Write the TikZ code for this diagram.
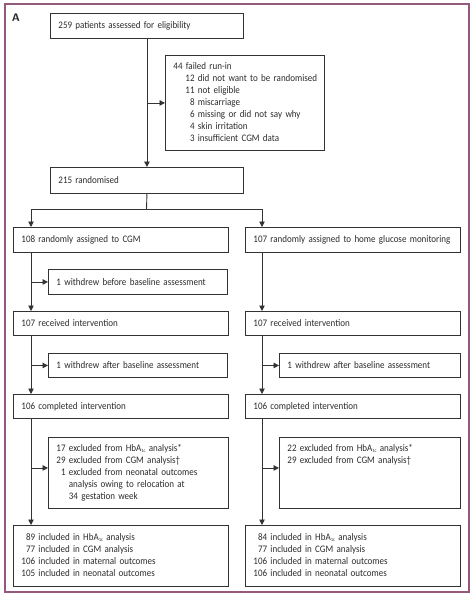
\documentclass[tikz,border=0pt]{standalone}
\usepackage{fontspec}
\setmainfont{Carlito}[FakeStretch=0.9]
\usetikzlibrary{arrows.meta}
\definecolor{framec}{HTML}{94587C}
\definecolor{linec}{HTML}{333333}
\definecolor{textc}{HTML}{2B2B2B}
\hyphenpenalty=10000
\exhyphenpenalty=10000
\newcommand\hba{HbA\raisebox{-0.25ex}{\fontsize{5}{6}\selectfont 1c}}
\begin{document}
\begin{tikzpicture}[x=1pt,y=-1pt,
  box/.style={draw=linec, line width=0.9pt, anchor=north west, inner xsep=8pt, inner ysep=0pt,
    align=left, text=textc, font=\fontsize{10}{12}\selectfont},
  arr/.style={draw=linec, line width=0.9pt, -{Triangle[length=5.5pt,width=5.5pt]}},
  conn/.style={draw=linec, line width=0.9pt}]
\useasboundingbox (0,0) rectangle (474,600);
\draw[draw=framec, line width=1.2pt] (5,4) rectangle (469,592);
\node[font=\sffamily\bfseries\fontsize{11}{13}\selectfont, text=textc] (lab) at (16,18) {A};

\node[box, minimum width=193pt, text width=177pt, minimum height=25pt] (b1) at (50,13) {259 patients assessed for eligibility};
\node[box, minimum width=159pt, text width=143pt, minimum height=95pt] (fail) at (165,55) {%
\begin{tabular}{@{\hspace{12pt}}r@{\ }l@{}}
\multicolumn{2}{@{}l@{}}{44 failed run-in}\\
12 & did not want to be randomised\\
11 & not eligible\\
8 & miscarriage\\
6 & missing or did not say why\\
4 & skin irritation\\
3 & insufficient CGM data
\end{tabular}};
\node[box, minimum width=193pt, text width=177pt, minimum height=26pt] (b215) at (50,167) {215 randomised};

\node[box, minimum width=215pt, text width=199pt, minimum height=25pt] (cgm) at (13,227) {108 randomly assigned to CGM};
\node[box, minimum width=215pt, text width=199pt, minimum height=25pt] (hgm) at (245,227) {107 randomly assigned to home glucose monitoring};
\node[box, minimum width=179pt, text width=163pt, minimum height=25pt] (wd1) at (48,269) {1 withdrew before baseline assessment};
\node[box, minimum width=215pt, text width=199pt, minimum height=24pt] (rec1) at (13,311) {107 received intervention};
\node[box, minimum width=215pt, text width=199pt, minimum height=24pt] (rec2) at (245,311) {107 received intervention};
\node[box, minimum width=179pt, text width=163pt, minimum height=24pt] (wd2) at (48,353) {1 withdrew after baseline assessment};
\node[box, minimum width=181pt, text width=165pt, minimum height=24pt] (wd3) at (279,353) {1 withdrew after baseline assessment};
\node[box, minimum width=215pt, text width=199pt, minimum height=24pt] (comp1) at (13,394) {106 completed intervention};
\node[box, minimum width=215pt, text width=199pt, minimum height=24pt] (comp2) at (245,394) {106 completed intervention};
\node[box, minimum width=180pt, text width=164pt, minimum height=71pt] (ex1) at (48,437) {%
\begin{tabular}{@{}r@{\ }l@{}}
17 & excluded from \hba{} analysis*\\
29 & excluded from CGM analysis\textdagger\\
1 & excluded from neonatal outcomes\\
 & analysis owing to relocation at\\
 & 34 gestation week
\end{tabular}};
\node[box, minimum width=181pt, text width=165pt, minimum height=71pt] (ex2) at (279,437) {%
\begin{tabular}{@{}r@{\ }l@{}}
22 & excluded from \hba{} analysis*\\
29 & excluded from CGM analysis\textdagger\\
 & \\
 & \\
 & \\
\end{tabular}};
\node[box, minimum width=215pt, text width=199pt, minimum height=61pt] (inc1) at (13,525) {%
\begin{tabular}{@{}r@{\ }l@{}}
89 & included in \hba{} analysis\\
77 & included in CGM analysis\\
106 & included in maternal outcomes\\
105 & included in neonatal outcomes
\end{tabular}};
\node[box, minimum width=215pt, text width=199pt, minimum height=61pt] (inc2) at (245,525) {%
\begin{tabular}{@{}r@{\ }l@{}}
84 & included in \hba{} analysis\\
77 & included in CGM analysis\\
106 & included in maternal outcomes\\
106 & included in neonatal outcomes
\end{tabular}};

\coordinate (L) at (31,0);
\coordinate (R) at (262,0);
\coordinate (split) at (146.5,209);

\draw[arr] (b1.south) -- (b215.north);
\draw[arr] (b1.south |- fail.west) -- (fail.west);
\draw[conn] (b215.south) -- (split);
\draw[arr] (split) -| (L |- cgm.north);
\draw[arr] (split) -| (R |- hgm.north);

\draw[arr] (L |- cgm.south) -- (L |- rec1.north);
\draw[arr] (L |- wd1.west) -- (wd1.west);
\draw[arr] (L |- rec1.south) -- (L |- comp1.north);
\draw[arr] (L |- wd2.west) -- (wd2.west);
\draw[arr] (L |- comp1.south) -- (L |- inc1.north);
\coordinate (e1) at ([yshift=5pt]ex1.west);
\draw[arr] (L |- e1) -- (e1);

\draw[arr] (R |- hgm.south) -- (R |- rec2.north);
\draw[arr] (R |- rec2.south) -- (R |- comp2.north);
\draw[arr] (R |- wd3.west) -- (wd3.west);
\draw[arr] (R |- comp2.south) -- (R |- inc2.north);
\coordinate (e2) at ([yshift=5pt]ex2.west);
\draw[arr] (R |- e2) -- (e2);
\end{tikzpicture}
\end{document}
